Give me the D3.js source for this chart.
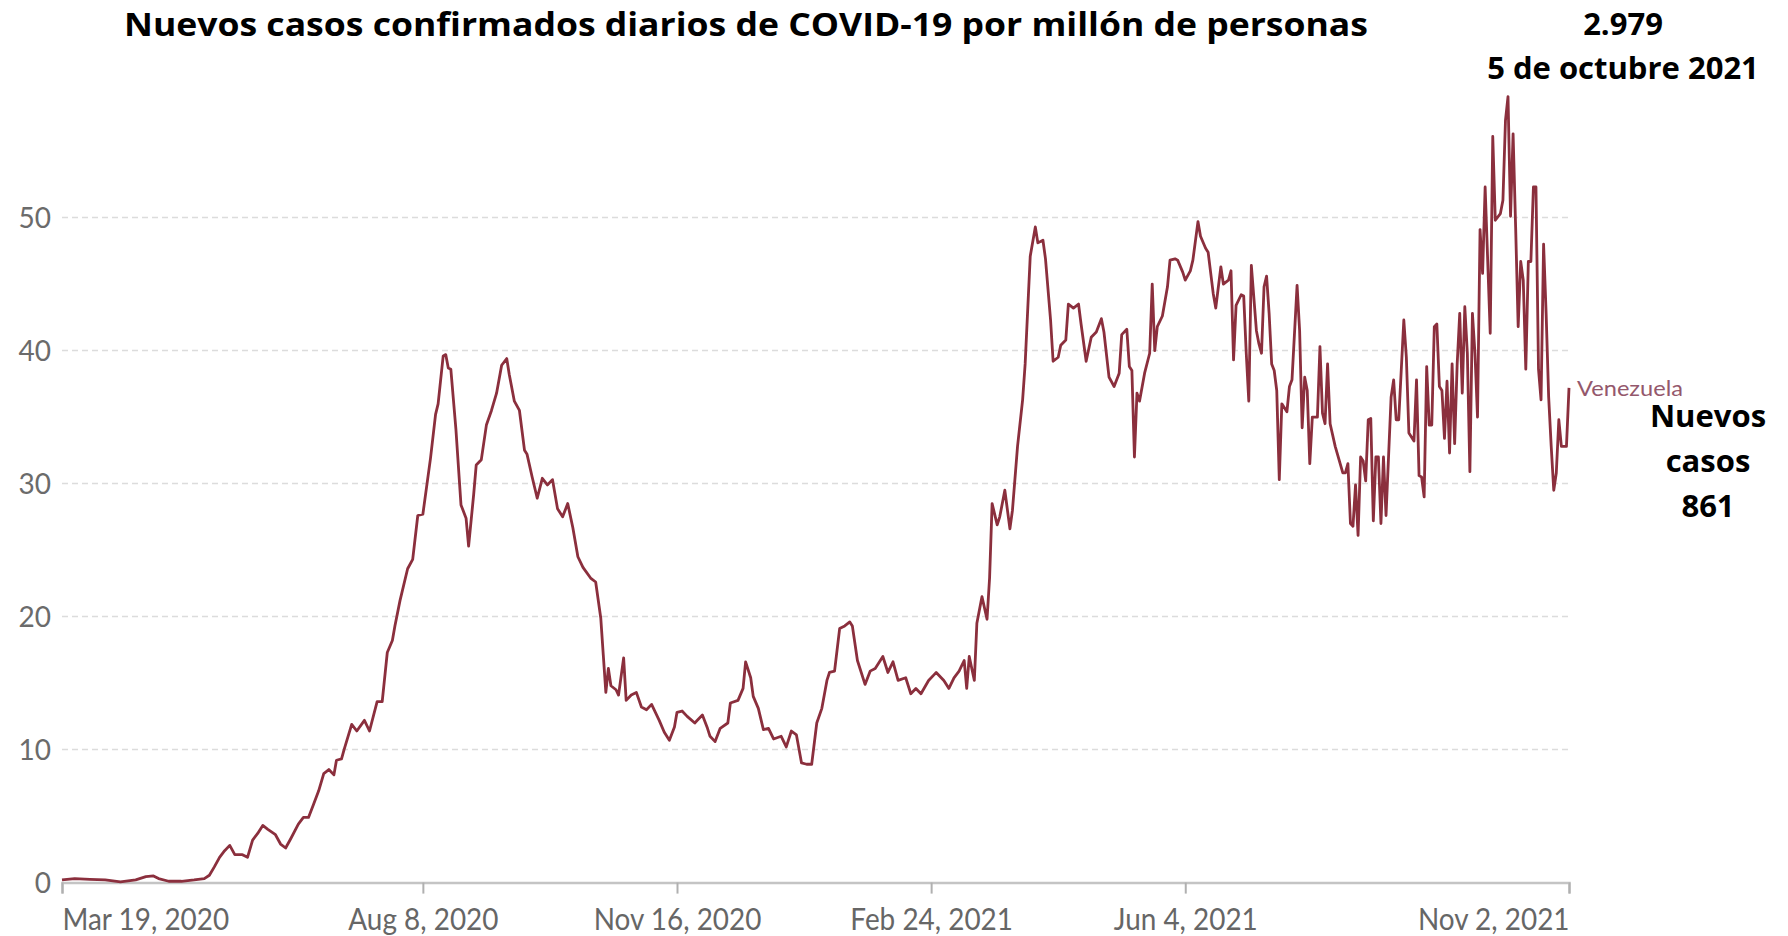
<!DOCTYPE html>
<html>
<head>
<meta charset="utf-8">
<script src="https://d3js.org/d3.v7.min.js"></script>
<style>
body { margin: 0; background: #fff; }
svg { display: block; }
</style>
</head>
<body>
<script>

var width = 1788;
var height = 936;

// ---- data ----
var firstDay = "2020-03-19";
var titleText = "Nuevos casos confirmados diarios de COVID-19 por millón de personas";
var countryName = "Venezuela";
var peakNote = ["2.979", "5 de octubre 2021"];
var lastNote = ["Nuevos", "casos", "861"];
var yTicks = [0, 10, 20, 30, 40, 50];
var xTickDays = [0, 142, 242, 342, 442, 593];

// days after firstDay
var dayOffset = [
  0, 5, 11, 17, 23, 29, 33, 36, 38, 42, 47, 52, 56, 58, 60, 62, 64, 66, 68, 71,
  73, 75, 77, 79, 81, 84, 86, 88, 90, 93, 95, 97, 99, 101, 103, 105, 107, 108, 110, 111,
  114, 116, 119, 121, 124, 126, 128, 130, 131, 133, 136, 138, 140, 142, 145, 147, 148, 150, 151, 152,
  153, 155, 157, 159, 160, 162, 163, 165, 167, 169, 171, 173, 175, 176, 178, 180, 182, 183, 185, 187,
  189, 191, 193, 195, 197, 199, 201, 203, 205, 208, 210, 212, 213, 214, 215, 216, 218, 219, 221, 222,
  224, 226, 228, 230, 232, 235, 237, 239, 241, 242, 244, 246, 249, 250, 252, 254, 255, 257, 259, 262,
  263, 266, 268, 269, 271, 272, 274, 276, 278, 280, 283, 285, 287, 289, 291, 293, 295, 297, 299, 301,
  302, 304, 306, 308, 310, 311, 313, 316, 318, 320, 323, 325, 327, 329, 332, 334, 336, 338, 341, 343,
  344, 347, 349, 351, 353, 355, 356, 357, 359, 360, 362, 364, 365, 366, 368, 369, 371, 373, 374, 376,
  378, 379, 381, 383, 384, 386, 387, 389, 390, 392, 393, 395, 396, 398, 400, 401, 403, 405, 407, 409,
  410, 412, 414, 416, 417, 419, 420, 421, 422, 423, 424, 426, 428, 429, 430, 431, 433, 435, 436, 438,
  439, 441, 442, 444, 445, 447, 448, 450, 451, 453, 454, 456, 457, 459, 460, 461, 462, 464, 465, 466,
  467, 468, 470, 471, 472, 473, 474, 475, 476, 477, 478, 479, 480, 482, 483, 484, 486, 487, 488, 489,
  490, 491, 492, 494, 495, 496, 497, 498, 499, 501, 504, 505, 506, 507, 508, 509, 510, 511, 512, 513,
  514, 515, 516, 517, 518, 519, 520, 521, 523, 524, 525, 526, 528, 529, 530, 532, 533, 534, 535, 536,
  537, 538, 539, 540, 541, 542, 543, 544, 545, 546, 547, 548, 549, 550, 551, 552, 553, 554, 555, 556,
  557, 558, 559, 560, 562, 563, 564, 566, 567, 568, 569, 570, 571, 572, 573, 574, 575, 576, 577, 578,
  579, 580, 581, 582, 583, 584, 585, 586, 587, 588, 589, 590, 591, 592, 593
];

var newCasesPerMillion = [
  0.2, 0.3, 0.25, 0.2, 0.05, 0.2, 0.45, 0.5, 0.3, 0.1, 0.1, 0.2, 0.3, 0.55, 1.2, 1.9, 2.4, 2.8, 2.1, 2.1,
  1.9, 3.2, 3.7, 4.3, 4.0, 3.6, 2.9, 2.6, 3.3, 4.4, 4.9, 4.9, 5.9, 6.9, 8.2, 8.5, 8.1, 9.2, 9.3, 10.0,
  11.9, 11.4, 12.2, 11.4, 13.6, 13.6, 17.3, 18.2, 19.3, 21.2, 23.6, 24.3, 27.6, 27.7, 31.9, 35.2, 36.0, 39.6, 39.7, 38.7,
  38.6, 34.1, 28.4, 27.4, 25.3, 29.2, 31.4, 31.8, 34.4, 35.5, 36.8, 38.9, 39.4, 38.2, 36.2, 35.5, 32.5, 32.2, 30.5, 28.9,
  30.4, 29.9, 30.3, 28.1, 27.5, 28.5, 26.7, 24.5, 23.7, 22.9, 22.6, 19.9, 17.1, 14.3, 16.1, 14.8, 14.5, 14.1, 16.9, 13.7,
  14.1, 14.3, 13.2, 13.0, 13.4, 12.2, 11.3, 10.7, 11.7, 12.8, 12.9, 12.5, 12.0, 12.2, 12.6, 11.6, 11.0, 10.6, 11.6, 12.0,
  13.5, 13.7, 14.6, 16.6, 15.4, 14.0, 13.1, 11.5, 11.6, 10.8, 11.0, 10.2, 11.4, 11.1, 9.0, 8.9, 8.9, 12.0, 13.1, 15.2,
  15.8, 15.9, 19.1, 19.3, 19.6, 19.3, 16.7, 14.9, 15.9, 16.1, 17.0, 15.8, 16.6, 15.2, 15.4, 14.2, 14.6, 14.2, 15.2, 15.6,
  15.8, 15.2, 14.6, 15.4, 15.9, 16.7, 14.6, 17.0, 15.2, 19.5, 21.5, 19.8, 22.9, 28.5, 26.9, 27.5, 29.5, 26.6, 28.0, 32.8,
  36.3, 39.0, 47.1, 49.3, 48.1, 48.3, 46.9, 42.3, 39.2, 39.5, 40.4, 40.8, 43.5, 43.2, 43.5, 42.0, 39.2, 41.0, 41.4, 42.4,
  41.4, 38.0, 37.3, 38.3, 41.2, 41.6, 38.8, 38.5, 32.0, 36.8, 36.2, 38.3, 39.8, 45.0, 40.0, 41.8, 42.6, 44.8, 46.8, 46.9,
  46.8, 45.9, 45.3, 46.0, 46.8, 49.7, 48.6, 47.7, 47.4, 44.3, 43.2, 46.3, 45.0, 45.3, 46.0, 39.3, 43.4, 44.2, 44.1, 39.8,
  36.2, 46.4, 41.5, 40.5, 39.8, 44.8, 45.6, 42.8, 39.0, 38.5, 37.0, 30.3, 36.0, 35.4, 37.3, 37.8, 44.9, 41.5, 34.2, 38.0,
  37.0, 31.5, 35.0, 35.0, 40.3, 35.3, 34.5, 39.0, 34.5, 32.8, 30.8, 30.8, 31.5, 27.0, 26.8, 29.9, 26.1, 32.0, 31.7, 30.2,
  34.8, 34.9, 27.2, 32.0, 32.0, 27.0, 32.0, 27.6, 36.5, 37.8, 34.8, 34.8, 42.3, 39.5, 33.8, 33.2, 37.8, 30.6, 30.5, 29.0,
  38.8, 34.4, 34.4, 41.8, 42.0, 37.3, 37.0, 33.4, 37.7, 32.3, 39.0, 33.0, 39.0, 42.8, 36.8, 43.3, 39.8, 30.9, 42.8, 39.8,
  35.0, 49.1, 45.8, 52.3, 41.3, 56.1, 49.8, 50.3, 51.3, 57.3, 59.1, 50.1, 56.3, 49.3, 41.8, 46.7, 45.3, 38.6, 46.7, 46.7,
  52.3, 52.3, 38.6, 36.3, 48.0, 42.8, 36.5, 32.8, 29.5, 30.8, 34.8, 32.8, 32.8, 32.8, 37.2
];

// ---- setup ----
var start = d3.timeParse("%Y-%m-%d")(firstDay);
function dayToDate(n) { return d3.timeDay.offset(start, n); }

var data = dayOffset.map(function(n, i) {
  return { date: dayToDate(n), value: newCasesPerMillion[i] };
});

var x = d3.scaleTime()
    .domain([start, dayToDate(xTickDays[xTickDays.length - 1])])
    .range([62, 1569]);

var y = d3.scaleLinear()
    .domain([0, 50])
    .range([882.6, 217.6]);

var svg = d3.select("body").append("svg")
    .attr("width", width)
    .attr("height", height)
    .style("background", "#fff");

var tickFont = "Lato, 'Open Sans', sans-serif";
var boldFont = "'Open Sans', 'Noto Sans', sans-serif";

// gridlines
svg.append("g")
  .selectAll("line")
  .data(yTicks.filter(function(d) { return d > 0; }))
  .enter().append("line")
    .attr("x1", x.range()[0])
    .attr("x2", x.range()[1])
    .attr("y1", function(d) { return y(d); })
    .attr("y2", function(d) { return y(d); })
    .attr("stroke", "#dcdcdc")
    .attr("stroke-width", 1.5)
    .attr("stroke-dasharray", "6,4");

// y labels
svg.append("g")
  .selectAll("text")
  .data(yTicks)
  .enter().append("text")
    .attr("x", 51)
    .attr("y", function(d) { return y(d); })
    .attr("dy", "0.36em")
    .attr("text-anchor", "end")
    .attr("font-family", tickFont)
    .attr("font-size", 28)
    .attr("fill", "#6b6b6b")
    .text(function(d) { return d; });

// x axis
var xAxis = d3.axisBottom(x)
    .tickValues(xTickDays.map(dayToDate))
    .tickFormat(d3.timeFormat("%b %-d, %Y"))
    .tickSize(11)
    .tickPadding(8);

var gx = svg.append("g")
    .attr("transform", "translate(0," + y(0) + ")")
    .call(xAxis);

gx.select(".domain").attr("stroke", "#c4c4c4").attr("stroke-width", 2.5);
gx.selectAll(".tick line").attr("stroke", "#b0b0b0").attr("stroke-width", 2);
gx.selectAll(".tick text")
    .attr("font-family", tickFont)
    .attr("font-size", 30)
    .attr("fill", "#666")
    .attr("dy", "0.95em")
    .attr("text-anchor", function(d, i) {
      if (i === 0) return "start";
      if (i === xTickDays.length - 1) return "end";
      return "middle";
    })
    .each(function() {
      var w = this.getComputedTextLength();
      d3.select(this).attr("textLength", w * 0.93).attr("lengthAdjust", "spacingAndGlyphs");
    });

// line
var line = d3.line()
    .x(function(d) { return x(d.date); })
    .y(function(d) { return y(d.value); });

svg.append("path")
    .datum(data)
    .attr("fill", "none")
    .attr("stroke", "#8b2f3d")
    .attr("stroke-width", 2.8)
    .attr("stroke-linejoin", "round")
    .attr("d", line);

// series label
var last = data[data.length - 1];
svg.append("text")
    .attr("x", x(last.date) + 8)
    .attr("y", y(last.value))
    .attr("dy", "0.35em")
    .attr("font-family", tickFont)
    .attr("font-size", 22)
    .attr("fill", "#94586c")
    .attr("textLength", 106)
    .attr("lengthAdjust", "spacingAndGlyphs")
    .text(countryName);

// title
svg.append("text")
    .attr("x", 124)
    .attr("y", 35.5)
    .attr("font-family", boldFont)
    .attr("font-weight", 700)
    .attr("font-size", 33)
    .attr("fill", "#000")
    .attr("textLength", 1244)
    .attr("lengthAdjust", "spacingAndGlyphs")
    .text(titleText);

// peak annotation
svg.append("g")
  .selectAll("text")
  .data(peakNote)
  .enter().append("text")
    .attr("x", 1623)
    .attr("y", function(d, i) { return 35 + i * 44; })
    .attr("text-anchor", "middle")
    .attr("font-family", boldFont)
    .attr("font-weight", 700)
    .attr("font-size", 31)
    .attr("fill", "#000")
    .text(function(d) { return d; });

// last value annotation
svg.append("g")
  .selectAll("text")
  .data(lastNote)
  .enter().append("text")
    .attr("x", 1708)
    .attr("y", function(d, i) { return 427 + i * 45; })
    .attr("text-anchor", "middle")
    .attr("font-family", boldFont)
    .attr("font-weight", 700)
    .attr("font-size", 31)
    .attr("fill", "#000")
    .text(function(d) { return d; });

</script>
</body>
</html>
